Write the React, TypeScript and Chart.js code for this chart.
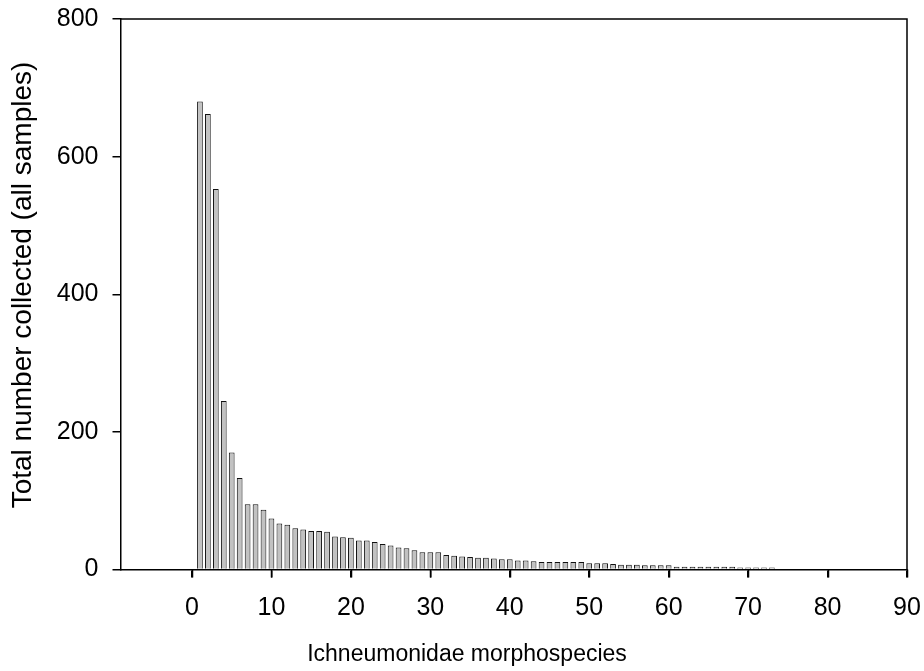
import React, { useEffect, useRef } from "react";
import { Chart, registerables } from "chart.js";

Chart.register(...registerables);

const speciesRank: number[] = Array.from({ length: 73 }, (_, i) => i + 1);
const totalCollected: number[] = [
  680, 662, 553, 245, 170, 133, 95, 95, 87, 74,
  67, 65, 60, 58, 56, 56, 55, 48, 47, 46,
  42, 42, 40, 37, 35, 32, 31, 28, 25, 25,
  25, 21, 20, 19, 18, 17, 17, 16, 15, 15,
  13, 13, 12, 11, 11, 11, 11, 11, 11, 9,
  9, 9, 8, 7, 7, 7, 6, 6, 6, 6,
  4, 4, 4, 4, 4, 4, 4, 4, 3, 3,
  3, 3, 3,
];
const xTickValues: number[] = [0, 10, 20, 30, 40, 50, 60, 70, 80, 90];
const yTickValues: number[] = [0, 200, 400, 600, 800];
const xTitle = "Ichneumonidae morphospecies";
const yTitle = "Total number collected (all samples)";

const FONT = "'Liberation Sans', Arial, sans-serif";

const frame = {
  id: "frame",
  afterDraw(chart: any) {
    const { ctx, chartArea } = chart;
    const xs = chart.scales.x;
    ctx.save();
    ctx.strokeStyle = "#000";
    ctx.lineWidth = 1.5;
    ctx.beginPath();
    ctx.moveTo(chartArea.left, chartArea.top);
    ctx.lineTo(chartArea.right, chartArea.top);
    ctx.lineTo(chartArea.right, chartArea.bottom);
    for (const v of xTickValues) {
      const px = Math.round(xs.getPixelForValue(v)) + 0.5;
      ctx.moveTo(px, chartArea.bottom);
      ctx.lineTo(px, chartArea.bottom + 8);
    }
    ctx.stroke();

    ctx.fillStyle = "#000";
    ctx.textAlign = "center";
    ctx.textBaseline = "middle";
    ctx.font = `23px ${FONT}`;
    ctx.fillText(xTitle, 467, 655);
    ctx.translate(23.5, 285);
    ctx.rotate(-Math.PI / 2);
    ctx.font = `28px ${FONT}`;
    ctx.fillText(yTitle, 0, 0);
    ctx.restore();
  },
};

export default function App() {
  const ref = useRef<HTMLCanvasElement | null>(null);
  useEffect(() => {
    if (!ref.current) return;
    const chart = new Chart(ref.current, {
      type: "bar",
      data: {
        datasets: [
          {
            data: speciesRank.map((r, i) => ({ x: r, y: totalCollected[i] })),
            backgroundColor: "#c2c2c2",
            borderColor: "#111",
            borderWidth: 1,
            barPercentage: 0.72,
            categoryPercentage: 1,
          },
        ],
      },
      options: {
        animation: false,
        responsive: false,
        layout: { padding: { top: 19, right: 17, left: 0, bottom: 0 } },
        plugins: { legend: { display: false }, tooltip: { enabled: false } },
        scales: {
          x: {
            type: "linear",
            min: -9,
            max: 90,
            offset: false,
            afterBuildTicks: (scale: any) => {
              scale.ticks = xTickValues.map((v) => ({ value: v }));
            },
            afterFit: (scale: any) => {
              scale.height = 101.5;
              scale.paddingLeft = 0;
              scale.paddingRight = 0;
            },
            grid: { display: true, offset: false, drawOnChartArea: false, drawTicks: true, tickLength: 8, color: "#000", lineWidth: 1.5 },
            border: { display: true, color: "#000", width: 1.5 },
            ticks: { color: "#000", font: { family: FONT, size: 25 }, padding: 15.5, maxRotation: 0, autoSkip: false },
            title: { display: false, text: xTitle },
          },
          y: {
            type: "linear",
            min: 0,
            max: 800,
            afterBuildTicks: (scale: any) => {
              scale.ticks = yTickValues.map((v) => ({ value: v }));
            },
            afterFit: (scale: any) => {
              scale.width = 120.5;
              scale.paddingTop = 0;
              scale.paddingBottom = 0;
            },
            grid: { display: true, drawOnChartArea: false, drawTicks: true, tickLength: 8, color: "#000", lineWidth: 1.5 },
            border: { display: true, color: "#000", width: 1.5 },
            ticks: { color: "#000", font: { family: FONT, size: 25 }, padding: 14 },
            title: { display: false, text: yTitle },
          },
        },
      },
      plugins: [frame],
    } as any);
    return () => chart.destroy();
  }, []);
  return (
    <div style={{ position: "absolute", left: 0, top: 0, width: 924, height: 671, background: "#fff" }}>
      <canvas ref={ref} width={924} height={671} />
    </div>
  );
}
